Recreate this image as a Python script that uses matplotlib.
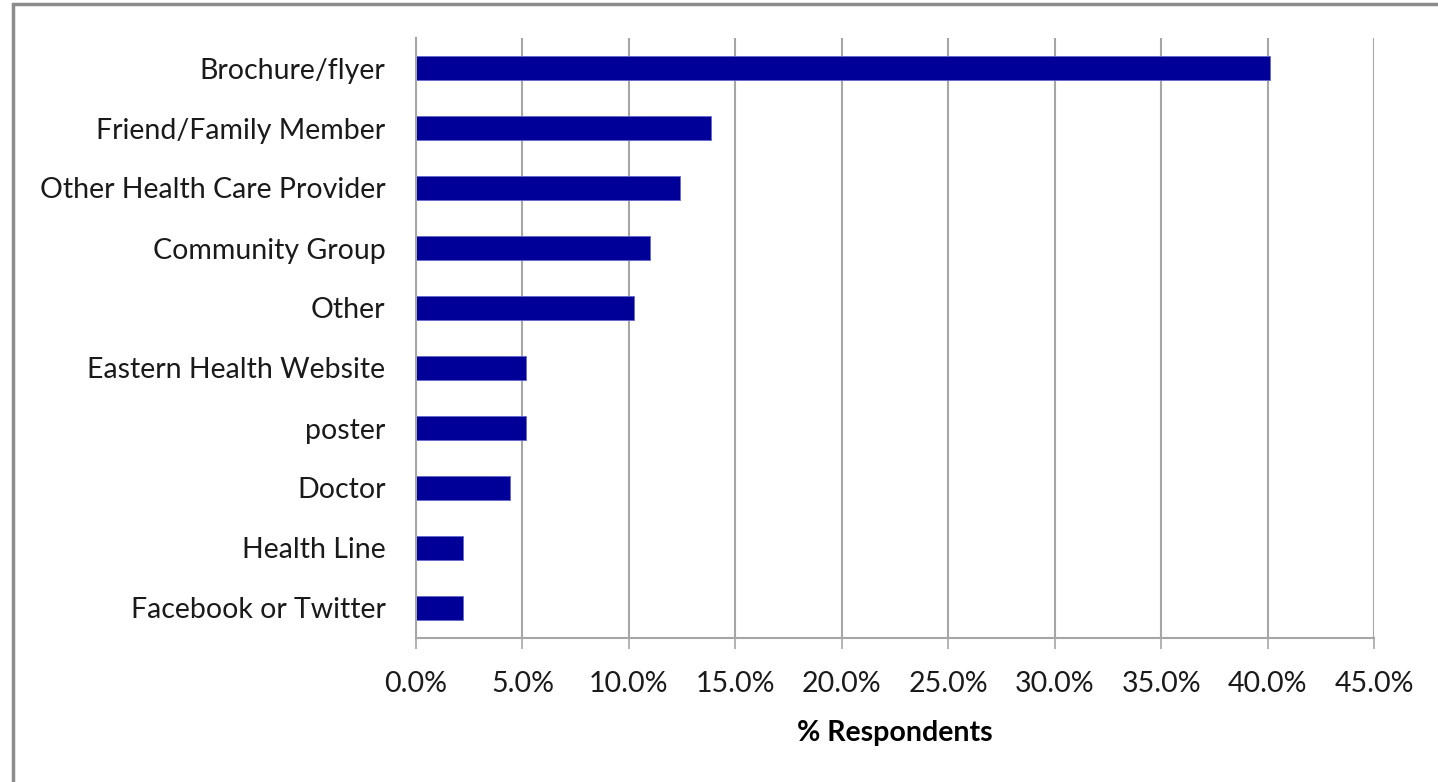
"""
Horizontal bar chart: how respondents heard about the program.
"""
import matplotlib.pyplot as plt
import matplotlib.patches as mpatches
from matplotlib.ticker import PercentFormatter

# Data, top to bottom
categories = [
    "Brochure/flyer",
    "Friend/Family Member",
    "Other Health Care Provider",
    "Community Group",
    "Other",
    "Eastern Health Website",
    "poster",
    "Doctor",
    "Health Line",
    "Facebook or Twitter",
]
percent_values = [40.13, 13.85, 12.42, 10.97, 10.25, 5.15, 5.15, 4.41, 2.19, 2.19]
x_ticks = [0, 5, 10, 15, 20, 25, 30, 35, 40, 45]

plt.rcParams["font.family"] = ["Lato", "DejaVu Sans"]

W, H = 1438, 782
fig = plt.figure(figsize=(W / 100, H / 100), dpi=100)
ax = fig.add_axes([416 / W, 1 - 638 / H, (1374 - 416) / W, 600 / H])

# reverse so first category is at top
y_pos = list(range(len(categories)))[::-1]
ax.barh(y_pos, percent_values, height=0.39, color="#000099",
        edgecolor="#6666cc", linewidth=0.6, zorder=3)

ax.set_xlim(0, 45)
ax.set_ylim(-0.5, len(categories) - 0.5)
ax.set_xticks(x_ticks)
ax.xaxis.set_major_formatter(PercentFormatter(decimals=1))
ax.set_yticks(y_pos)
ax.set_yticklabels(categories)

# gridlines and spines
ax.grid(axis="x", color="#a6a6a6", linewidth=1.5, zorder=0)
for side in ["top", "right"]:
    ax.spines[side].set_visible(False)
for side in ["left", "bottom"]:
    ax.spines[side].set_color("#a6a6a6")
    ax.spines[side].set_linewidth(1.5)
    ax.spines[side].set_zorder(4)

ax.tick_params(axis="y", length=0, pad=22, labelsize=20.5, labelcolor="#1a1a1a")
ax.tick_params(axis="x", length=8, width=1.2, color="#a6a6a6", pad=16,
               labelsize=20.5, labelcolor="#1a1a1a", direction="out")

ax.set_xlabel("% Respondents", fontsize=20.5, fontweight="bold", labelpad=16)

# outer chart border (left and top visible, rest runs off the image)
border = mpatches.Rectangle((13 / W, -0.2), 1.2, 0.2 + (1 - 4 / H),
                            transform=fig.transFigure, fill=False,
                            edgecolor="#8c8c8c", linewidth=2.5)
fig.patches.append(border)

plt.savefig("out.png", dpi=100)
plt.close()
